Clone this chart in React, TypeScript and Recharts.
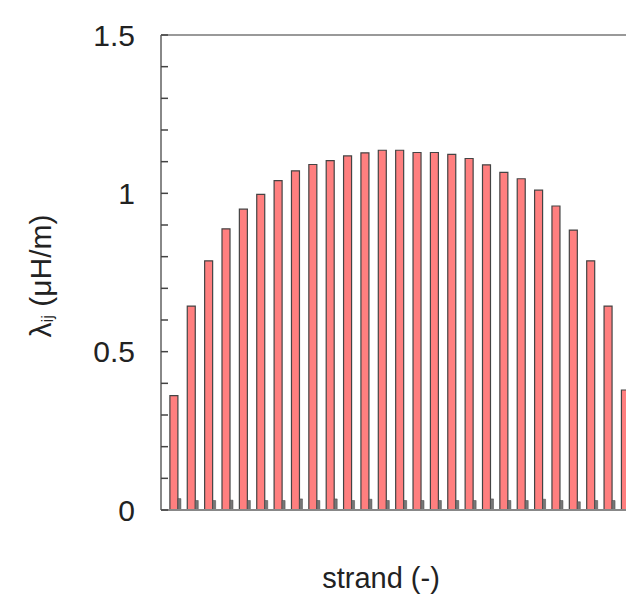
import { Bar, BarChart, Label, ReferenceLine, XAxis, YAxis } from "recharts";

const strands = [1, 2, 3, 4, 5, 6, 7, 8, 9, 10, 11, 12, 13, 14, 15, 16, 17, 18, 19, 20, 21, 22, 23, 24, 25, 26, 27];
const selfValues = [
  0.361, 0.644, 0.787, 0.888, 0.95, 0.997, 1.04, 1.071, 1.091, 1.103, 1.118, 1.128, 1.136, 1.136,
  1.129, 1.129, 1.123, 1.11, 1.09, 1.066, 1.046, 1.01, 0.96, 0.884, 0.787, 0.644, 0.379
];
const mutualValues = [
  0.036, 0.03, 0.03, 0.031, 0.03, 0.03, 0.03, 0.035, 0.03, 0.035, 0.03, 0.034, 0.03, 0.03,
  0.03, 0.03, 0.03, 0.03, 0.035, 0.03, 0.03, 0.034, 0.03, 0.026, 0.03, 0.03, 0.03
];
const majorTicks = [0, 0.5, 1, 1.5];
const yTicks = [0, 0.1, 0.2, 0.3, 0.4, 0.5, 0.6, 0.7, 0.8, 0.9, 1, 1.1, 1.2, 1.3, 1.4, 1.5];

const data = strands.map((s, i) => ({ strand: s, self: selfValues[i], mutual: mutualValues[i] }));

const font = "'Liberation Sans', Arial, sans-serif";
const labelGap = 26;

function YTick(props: any) {
  const { x, y, payload } = props;
  const v = payload.value;
  const isMajor = majorTicks.some((m) => Math.abs(m - v) < 1e-6);
  return (
    <g>
      <line x1={x + labelGap} x2={x + labelGap + 7} y1={y} y2={y} stroke="#444" strokeWidth={1.5} />
      {isMajor && (
        <text x={x} y={y} textAnchor="end" dominantBaseline="central" fontFamily={font} fontSize={30} fill="#222">
          {String(v)}
        </text>
      )}
    </g>
  );
}

export default function App() {
  return (
    <div style={{ position: "absolute", left: 0, top: 0, width: 626, height: 610, overflow: "hidden", background: "#fff" }}>
      <BarChart
        width={660}
        height={610}
        data={data}
        margin={{ top: 35, right: 19, bottom: 0, left: 0 }}
        barGap={0}
      >
        <XAxis
          dataKey="strand"
          type="number"
          domain={[0.16, 27.8]}
          allowDataOverflow
          height={100}
          tick={false}
          tickLine={false}
          axisLine={{ stroke: "#888", strokeWidth: 2 }}
        >
          <Label
            content={() => (
              <text x={381} y={578} textAnchor="middle" dominantBaseline="central" fontFamily={font} fontSize={29} fill="#222">
                strand (-)
              </text>
            )}
          />
        </XAxis>
        <YAxis
          width={161}
          domain={[0, 1.5]}
          ticks={yTicks}
          interval={0}
          tickLine={false}
          tickSize={0}
          tickMargin={labelGap}
          axisLine={{ stroke: "#888", strokeWidth: 2 }}
          tick={<YTick />}
        >
          <Label
            content={() => (
              <text
                x={40}
                y={276}
                transform="rotate(-90 40 276)"
                textAnchor="middle"
                dominantBaseline="central"
                fontFamily={font}
                fontSize={30}
                fill="#222"
              >
                λ<tspan fontSize={17} dy={7}>ij</tspan>
                <tspan dy={-7}> (μH/m)</tspan>
              </text>
            )}
          />
        </YAxis>
        <ReferenceLine y={1.5} stroke="#999" strokeWidth={2} />
        <Bar dataKey="self" barSize={8} fill="#ff7f7f" stroke="#444" strokeWidth={1.2} isAnimationActive={false} />
        <Bar dataKey="mutual" barSize={3} fill="#777" stroke="#444" strokeWidth={0.5} isAnimationActive={false} />
      </BarChart>
    </div>
  );
}
